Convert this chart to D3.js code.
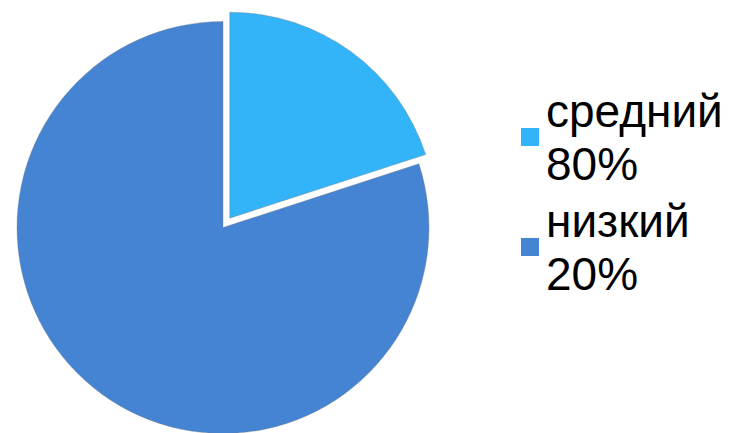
<!DOCTYPE html>
<html>
<head>
<meta charset="utf-8">
<script src="https://cdn.jsdelivr.net/npm/d3@7"></script>
<style>
  html, body { margin: 0; padding: 0; background: #ffffff; }
  svg { display: block; }
</style>
</head>
<body>
<svg id="chart" width="732" height="433"></svg>
<script>
// Category names and the legend's percentage text
const categories = ["средний", "низкий"];
const legendPercents = ["80%", "20%"];
// Slice shares (percent of the pie)
const shares = [20, 80];
const colors = ["#33b4f8", "#4584d3"];
// Which slice is pulled out of the pie
const exploded = [true, false];

const svg = d3.select("#chart");
const cx = 223, cy = 227.5, radius = 206, explodeDist = 11.5;

const pie = d3.pie().sort(null).value(d => d)(shares);
const arc = d3.arc().innerRadius(0).outerRadius(radius);

const g = svg.append("g").attr("transform", `translate(${cx},${cy})`);

g.selectAll("path.slice")
  .data(pie)
  .join("path")
  .attr("class", "slice")
  .attr("d", arc)
  .attr("fill", (d, i) => colors[i])
  .attr("stroke", "rgba(120,120,120,0.45)")
  .attr("stroke-width", 0.8)
  .attr("transform", (d, i) => {
    if (!exploded[i]) return null;
    const mid = (d.startAngle + d.endAngle) / 2;
    return `translate(${Math.sin(mid) * explodeDist},${-Math.cos(mid) * explodeDist})`;
  });

// Legend: swatch plus two-line label per category
const fontSize = 46, lineH = 53, entryH = 110;
const legend = svg.append("g").attr("transform", "translate(521,127)");
const items = legend.selectAll("g.item")
  .data(categories)
  .join("g")
  .attr("class", "item")
  .attr("transform", (d, i) => `translate(0,${i * entryH})`);

items.append("rect")
  .attr("x", 0)
  .attr("y", 1)
  .attr("width", 18)
  .attr("height", 18)
  .attr("fill", (d, i) => colors[i]);

const txt = items.append("text")
  .attr("font-family", "'Liberation Sans', Arial, sans-serif")
  .attr("font-size", fontSize)
  .attr("fill", "#000");
txt.append("tspan").attr("x", 25).attr("y", 0).text(d => d);
txt.append("tspan").attr("x", 25).attr("y", lineH).text((d, i) => legendPercents[i]);
</script>
</body>
</html>
